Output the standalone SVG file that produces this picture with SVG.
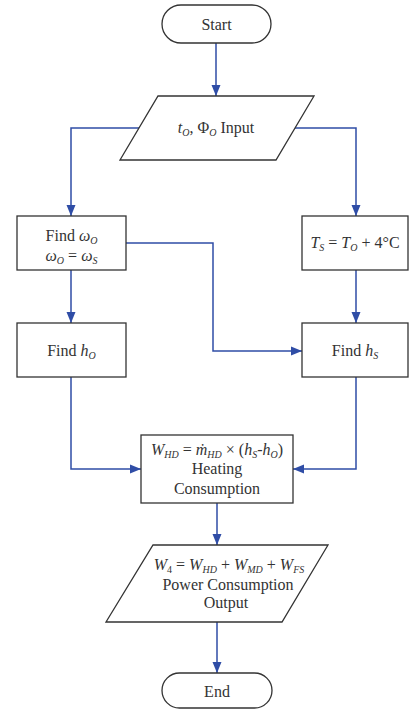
<svg xmlns="http://www.w3.org/2000/svg" width="409" height="711" viewBox="0 0 409 711">
<defs>
<style>
.n{fill:#fff;stroke:#333;stroke-width:1.3}
.c{fill:none;stroke:#2f4da6;stroke-width:1.5}
text{font-family:"Liberation Serif","Times New Roman",serif;font-size:16px;fill:#333;text-anchor:middle}
.i{font-style:italic}
.s{font-style:italic;font-size:10px}
.u{font-size:10px}
</style>
<marker id="a" markerUnits="userSpaceOnUse" markerWidth="12" markerHeight="12" viewBox="0 0 12 12" refX="11" refY="6" orient="auto">
<path d="M0,1.5 L11,6 L0,10.5 Z" fill="#2f4da6"/>
</marker>
</defs>
<rect width="409" height="711" fill="#fff"/>
<g id="connectors">
<path class="c" d="M216,43 V96" marker-end="url(#a)"/>
<path class="c" d="M139,128 H71 V216" marker-end="url(#a)"/>
<path class="c" d="M295,128 H356 V216" marker-end="url(#a)"/>
<path class="c" d="M71,270 V323" marker-end="url(#a)"/>
<path class="c" d="M356,270 V323" marker-end="url(#a)"/>
<path class="c" d="M126,243 H213 V351 H302" marker-end="url(#a)"/>
<path class="c" d="M71,377 V469 H141" marker-end="url(#a)"/>
<path class="c" d="M356,377 V469 H293" marker-end="url(#a)"/>
<path class="c" d="M217,503 V545" marker-end="url(#a)"/>
<path class="c" d="M217,622 V673" marker-end="url(#a)"/>
</g>
<g id="start">
<rect class="n" x="162" y="5" width="109" height="38" rx="19"/>
<text x="216.5" y="30">Start</text>
</g>
<g id="input">
<polygon class="n" points="158,96 314,96 276,160 120,160"/>
<text x="216" y="133"><tspan class="i">t</tspan><tspan class="s" dy="3">O</tspan><tspan dy="-3">, Φ</tspan><tspan class="s" dy="3">O</tspan><tspan dy="-3"> Input</tspan></text>
</g>
<g id="find-omega">
<rect class="n" x="17" y="216" width="109" height="54"/>
<text x="71.5" y="241">Find <tspan class="i">ω</tspan><tspan class="s" dy="3">O</tspan></text>
<text x="71.5" y="261"><tspan class="i">ω</tspan><tspan class="s" dy="3">O</tspan><tspan dy="-3"> = </tspan><tspan class="i">ω</tspan><tspan class="s" dy="3">S</tspan></text>
</g>
<g id="ts">
<rect class="n" x="302" y="216" width="106" height="54"/>
<text x="355" y="248"><tspan class="i">T</tspan><tspan class="s" dy="3">S</tspan><tspan dy="-3"> = </tspan><tspan class="i">T</tspan><tspan class="s" dy="3">O</tspan><tspan dy="-3"> + 4°C</tspan></text>
</g>
<g id="find-ho">
<rect class="n" x="17" y="323" width="109" height="54"/>
<text x="71.5" y="356">Find <tspan class="i">h</tspan><tspan class="s" dy="3">O</tspan></text>
</g>
<g id="find-hs">
<rect class="n" x="302" y="323" width="106" height="54"/>
<text x="355" y="356">Find <tspan class="i">h</tspan><tspan class="s" dy="3">S</tspan></text>
</g>
<g id="heating">
<rect class="n" x="141" y="435" width="152" height="68"/>
<text x="217" y="455"><tspan class="i">W</tspan><tspan class="s" dy="3">HD</tspan><tspan dy="-3"> = </tspan><tspan class="i">ṁ</tspan><tspan class="s" dy="3">HD</tspan><tspan dy="-3"> × (</tspan><tspan class="i">h</tspan><tspan class="s" dy="3">S</tspan><tspan dy="-3">-</tspan><tspan class="i">h</tspan><tspan class="s" dy="3">O</tspan><tspan dy="-3">)</tspan></text>
<text x="217" y="474">Heating</text>
<text x="217" y="494">Consumption</text>
</g>
<g id="output">
<polygon class="n" points="153,545 328,545 282,622 106,622"/>
<text x="229" y="570"><tspan class="i">W</tspan><tspan class="u" dy="3">4</tspan><tspan dy="-3"> = </tspan><tspan class="i">W</tspan><tspan class="s" dy="3">HD</tspan><tspan dy="-3"> + </tspan><tspan class="i">W</tspan><tspan class="s" dy="3">MD</tspan><tspan dy="-3"> + </tspan><tspan class="i">W</tspan><tspan class="s" dy="3">FS</tspan></text>
<text x="228" y="590">Power Consumption</text>
<text x="226" y="608">Output</text>
</g>
<g id="end">
<rect class="n" x="162" y="673" width="110" height="35" rx="17.5"/>
<text x="217" y="697">End</text>
</g>
</svg>
